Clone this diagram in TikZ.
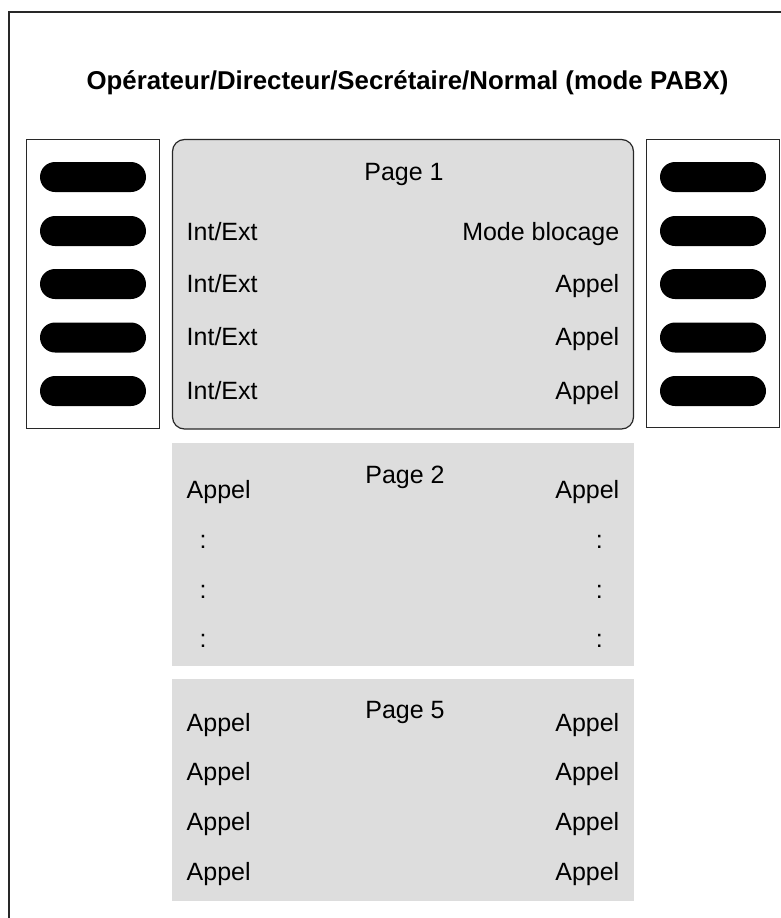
\documentclass[tikz,border=0pt]{standalone}
\usepackage{fontspec}
\setmainfont{Liberation Sans}
\definecolor{pagegray}{RGB}{221,221,221}
\definecolor{framegray}{RGB}{40,40,40}
\tikzset{
  pill/.style={draw=none, fill=black, rectangle, rounded corners=15pt, minimum width=106pt, minimum height=30pt, inner sep=0pt},
  keypanel/.style={draw=framegray, line width=1pt, fill=white},
  lbl/.style={inner sep=0pt, font=\fontsize{25}{30}\selectfont},
  lt/.style={lbl, anchor=base west},
  rt/.style={lbl, anchor=base east},
  ct/.style={lbl, anchor=base},
}
\begin{document}
\begin{tikzpicture}[x=1pt, y=-1pt]
\useasboundingbox (0,0) rectangle (781,918);
% outer frame (top and left edges only visible)
\draw[line width=1.3pt, framegray] (9,918) -- (9,12) -- (790,12);
% title
\node[inner sep=0pt, anchor=base, font=\bfseries\fontsize{25.8}{30}\selectfont] (title) at (407.5,89.5) {Opérateur/Directeur/Secrétaire/Normal (mode PABX)};
% side key panels
\draw[keypanel] (26.5,139.5) rectangle (159,428);
\draw[keypanel] (646.5,139.5) rectangle (779,427);
\foreach \i/\y in {1/177,2/231,3/284,4/337.5,5/391}{
  \node[pill] (L\i) at (93,\y) {};
  \node[pill] (R\i) at (713,\y) {};
}
% page 1
\draw[fill=pagegray, draw=framegray, line width=1.2pt, rounded corners=12pt] (172.5,139.5) rectangle (633.5,429);
\node[ct] (p1) at (404,180.7) {Page 1};
\node[lt] (p1l1) at (186.5,240.5) {Int/Ext};
\node[lt] (p1l2) at (186.5,292.5) {Int/Ext};
\node[lt] (p1l3) at (186.5,345) {Int/Ext};
\node[lt] (p1l4) at (186.5,399) {Int/Ext};
\node[rt] (p1r1) at (619.5,240) {Mode blocage};
\node[rt] (p1r2) at (619.5,292.5) {Appel};
\node[rt] (p1r3) at (619.5,345) {Appel};
\node[rt] (p1r4) at (619.5,399) {Appel};
% page 2
\fill[pagegray] (172,443) rectangle (634,665.5);
\node[ct] (p2) at (405,483.3) {Page 2};
\node[lt] (p2l1) at (186.5,498.3) {Appel};
\node[rt] (p2r1) at (619.5,498.3) {Appel};
\foreach \k/\y in {1/548.5,2/598.5,3/647}{
  \node[ct] (p2lc\k) at (203,\y) {:};
  \node[ct] (p2rc\k) at (599.3,\y) {:};
}
% page 5
\fill[pagegray] (172,679) rectangle (634,900.5);
\node[ct] (p5) at (405,718.3) {Page 5};
\foreach \k/\y in {1/731.7,2/780.7,3/830,4/880}{
  \node[lt] (p5l\k) at (186.5,\y) {Appel};
  \node[rt] (p5r\k) at (619.5,\y) {Appel};
}
\end{tikzpicture}
\end{document}
